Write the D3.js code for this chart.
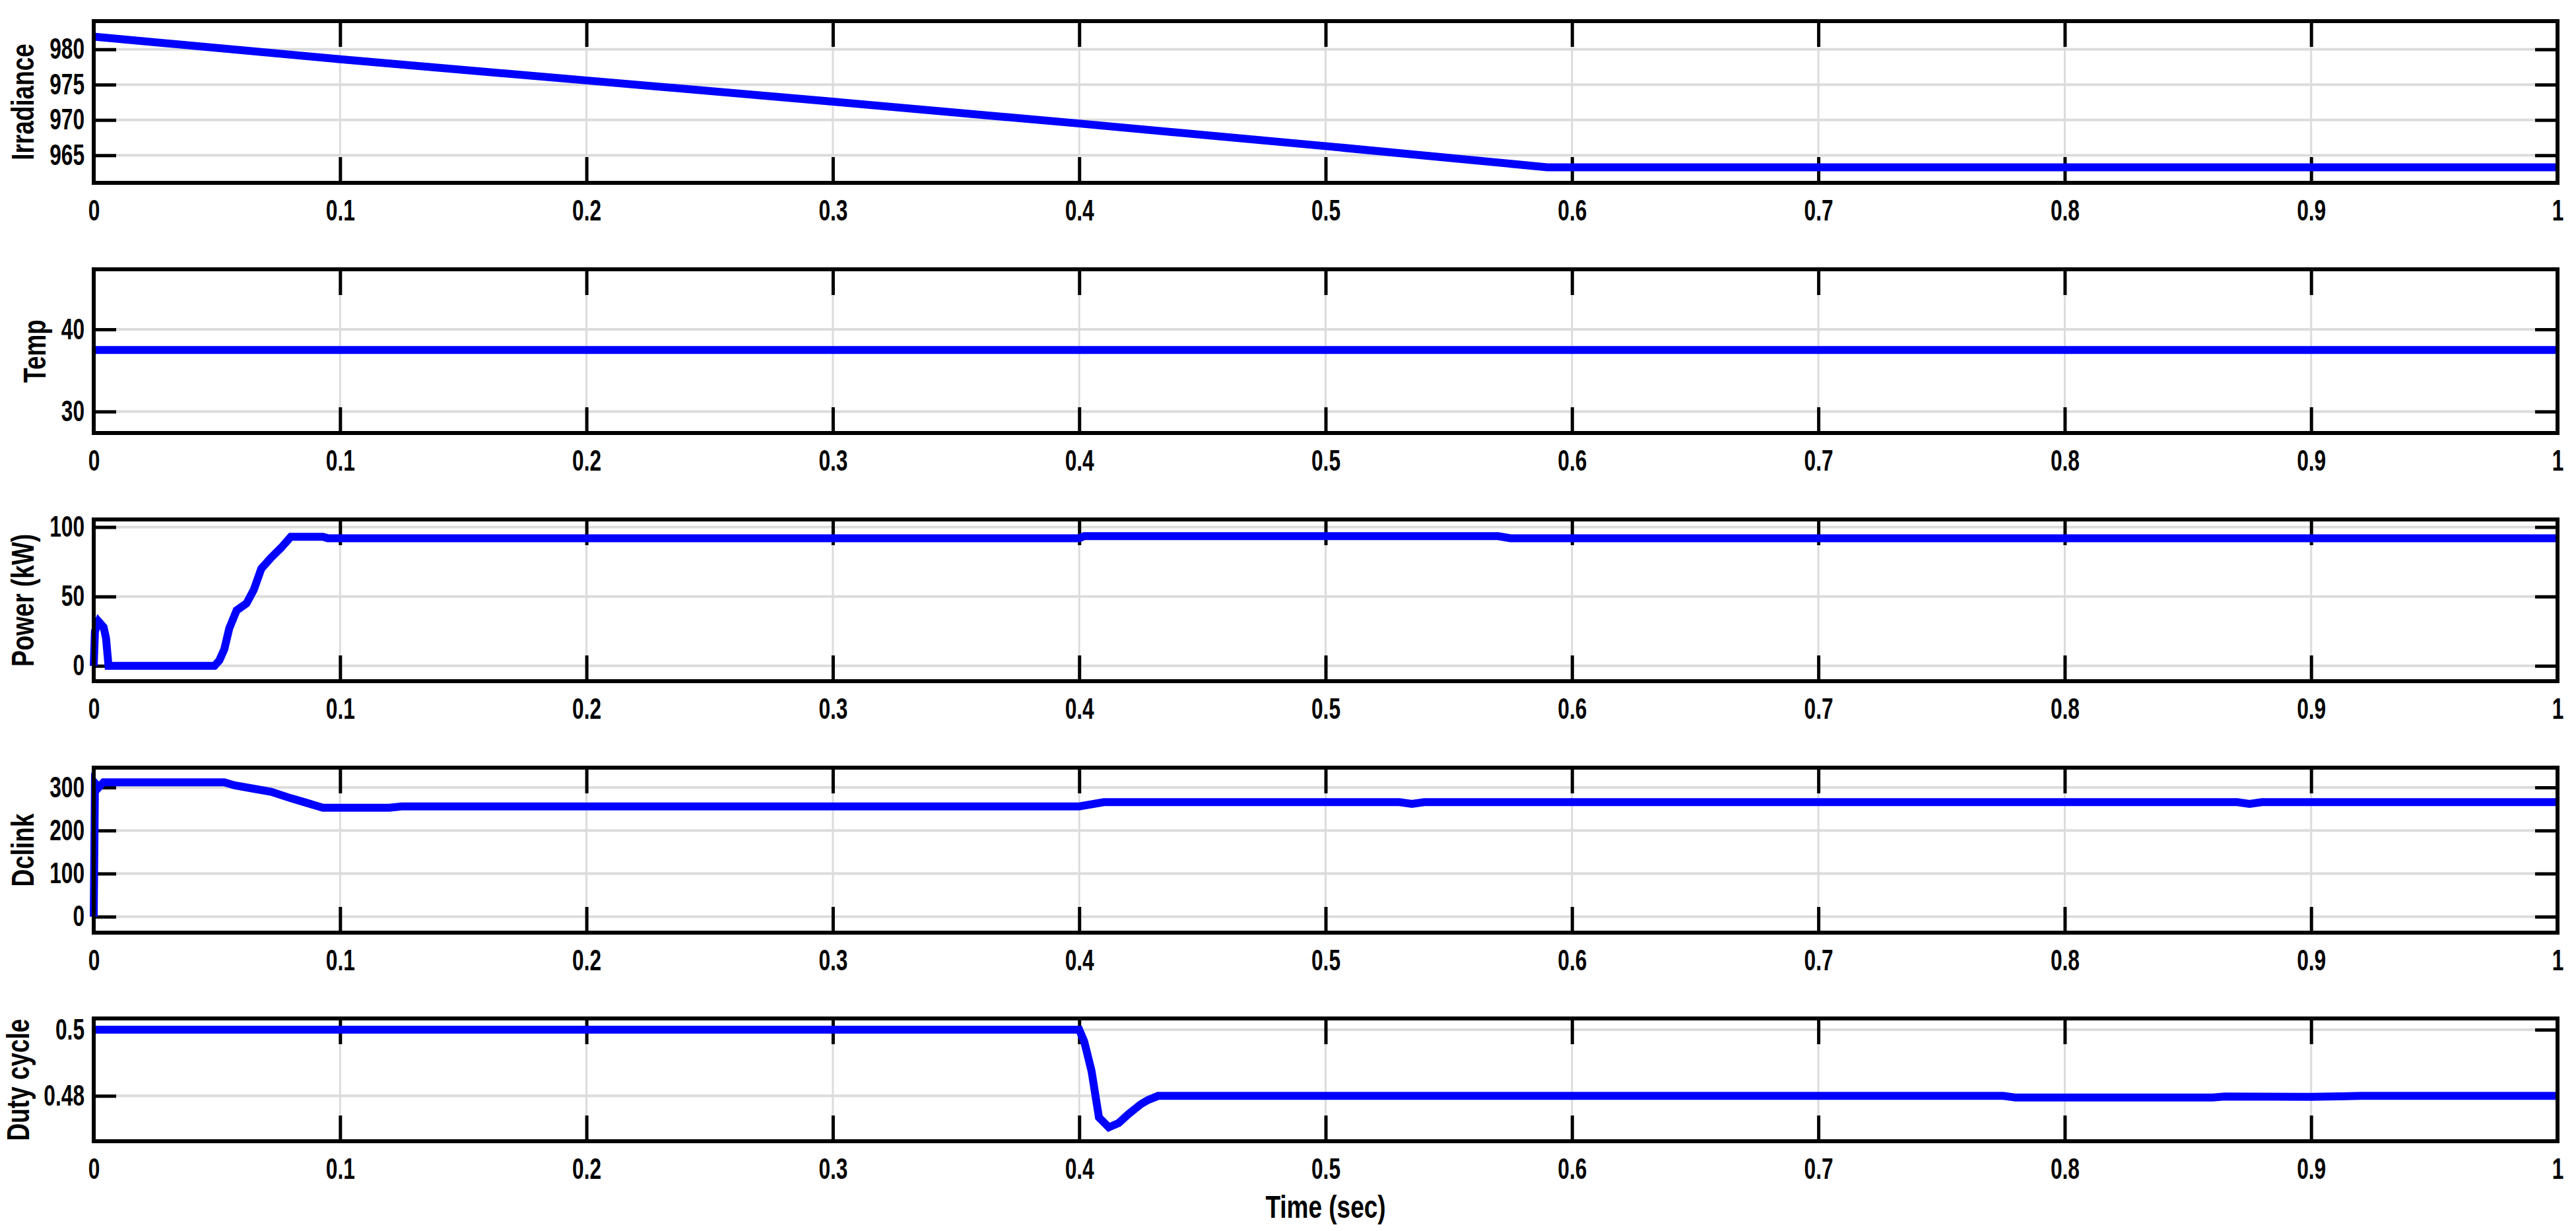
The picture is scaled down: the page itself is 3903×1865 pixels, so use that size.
<!DOCTYPE html>
<html><head><meta charset="utf-8">
<script src="https://cdn.jsdelivr.net/npm/d3@7"></script>
<style>body{margin:0;background:#fff}svg{display:block}</style>
</head><body>
<svg id="c" width="3903" height="1865"></svg>
<script>
const timeTicks = [0,0.1,0.2,0.3,0.4,0.5,0.6,0.7,0.8,0.9,1];
const xTickLabels = ["0","0.1","0.2","0.3","0.4","0.5","0.6","0.7","0.8","0.9","1"];

const irrT = [0,0.1,0.2,0.3,0.4,0.5,0.59,1];
const irrV = [981.8,978.6,975.6,972.6,969.5,966.3,963.3,963.3];
const irrTicks = [965,970,975,980];

const tempT = [0,1];
const tempV = [37.5,37.5];
const tempTicks = [30,40];

const powT = [0,0.0005,0.002,0.004,0.005,0.006,0.049,0.051,0.053,0.055,0.058,0.062,0.065,0.068,0.072,0.076,0.08,0.093,0.095,0.4,0.402,0.57,0.575,1];
const powV = [0,25,32,28,20,0,0,4,12,27,40,45,55,70,78,85,93,93,92,92,93.5,93.5,92,92];
const powTicks = [0,50,100];

const dcT = [0,0.0005,0.002,0.004,0.053,0.057,0.065,0.072,0.08,0.086,0.093,0.12,0.125,0.4,0.41,0.53,0.535,0.54,0.87,0.875,0.88,1];
const dcV = [0,310,300,312,312,305,297,290,275,265,253,253,256,256,266,266,262,266,266,262,266,266];
const dcTicks = [0,100,200,300];

const dutyT = [0,0.4,0.402,0.405,0.408,0.412,0.416,0.42,0.425,0.428,0.432,0.775,0.78,0.86,0.865,0.9,0.92,1];
const dutyV = [0.5,0.5,0.4965,0.4875,0.4735,0.4705,0.4718,0.4745,0.4775,0.4788,0.48,0.48,0.4795,0.4795,0.4798,0.4797,0.48,0.48];
const dutyTicks = [0.48,0.5];
const dutyTickLabels = ["0.48","0.5"];

const panels = [
 {label:"Irradiance", t:irrT, v:irrV, ticks:irrTicks, fmt:d=>d, dom:[961.1,984], top:32, bot:277},
 {label:"Temp", t:tempT, v:tempV, ticks:tempTicks, fmt:d=>d, dom:[27.4,47.3], top:408, bot:656},
 {label:"Power (kW)", t:powT, v:powV, ticks:powTicks, fmt:d=>d, dom:[-11,105.5], top:787, bot:1032},
 {label:"Dclink", t:dcT, v:dcV, ticks:dcTicks, fmt:d=>d, dom:[-37,346], top:1163, bot:1413},
 {label:"Duty cycle", t:dutyT, v:dutyV, ticks:dutyTicks, fmt:(d,i)=>dutyTickLabels[i], dom:[0.4663,0.5034], top:1543, bot:1729}
];

const svg = d3.select("#c");
const L=142, R=3875, SX=0.72, TF=44;
const x = d3.scaleLinear().domain([0,1]).range([L,R]);
const FONT = "'Liberation Sans',Arial,sans-serif";

panels.forEach(p=>{
  const y = d3.scaleLinear().domain(p.dom).range([p.bot,p.top]);
  const g = svg.append("g");
  g.selectAll(".gx").data(timeTicks).join("line").attr("x1",d=>x(d)).attr("x2",d=>x(d))
   .attr("y1",p.top).attr("y2",p.bot).attr("stroke","#dcdcdc").attr("stroke-width",3);
  g.selectAll(".gy").data(p.ticks).join("line").attr("x1",L).attr("x2",R)
   .attr("y1",d=>y(d)).attr("y2",d=>y(d)).attr("stroke","#dcdcdc").attr("stroke-width",4);
  const xa = g.append("g").attr("transform",`translate(0,${p.bot})`)
    .call(d3.axisBottom(x).tickValues(timeTicks).tickSize(-39).tickFormat((d,i)=>xTickLabels[i]).tickPadding(26));
  const xt = g.append("g").attr("transform",`translate(0,${p.top})`).call(d3.axisTop(x).tickValues(timeTicks).tickSize(-39).tickFormat(""));
  const yl = g.append("g").attr("transform",`translate(${L},0)`).call(d3.axisLeft(y).tickValues(p.ticks).tickSize(-34).tickFormat(p.fmt).tickPadding(10));
  const yr = g.append("g").attr("transform",`translate(${R},0)`).call(d3.axisRight(y).tickValues(p.ticks).tickSize(-34).tickFormat(""));
  [xa,xt,yl,yr].forEach(a=>{a.select(".domain").remove();a.selectAll(".tick line").attr("stroke","#000").attr("stroke-width",5);
    a.selectAll("text").attr("font-family",FONT).attr("font-size",TF).attr("font-weight","bold").attr("fill","#000")
     .attr("transform",`scale(${SX},1)`);});
  xa.selectAll("text").attr("dy","0.71em");
  yl.selectAll("text").attr("x",-14/SX);
  const pts = p.t.map((t,i)=>[t,p.v[i]]);
  g.append("path").datum(pts).attr("fill","none").attr("stroke","#0000ff").attr("stroke-width",12)
   .attr("d",d3.line().x(d=>x(d[0])).y(d=>y(d[1])));
  g.append("rect").attr("x",L).attr("y",p.top).attr("width",R-L).attr("height",p.bot-p.top)
   .attr("fill","none").attr("stroke","#000").attr("stroke-width",6);
  const maxChars = d3.max(p.ticks,(d,i)=>String(p.fmt(d,i)).length);
  const w = maxChars*TF*0.556*SX;
  const lx = Math.max(44, L-14-w-24);
  g.append("text").attr("transform",`translate(${lx},${(p.top+p.bot)/2}) rotate(-90) scale(${SX+0.05},1)`)
   .attr("text-anchor","middle").attr("font-family",FONT).attr("font-weight","bold").attr("font-size",48).text(p.label);
});
svg.append("text").attr("transform",`translate(${x(0.5)},1845) scale(${SX+0.05},1)`).attr("text-anchor","middle")
  .attr("font-family",FONT).attr("font-weight","bold").attr("font-size",48).text("Time (sec)");
</script>
</body></html>
